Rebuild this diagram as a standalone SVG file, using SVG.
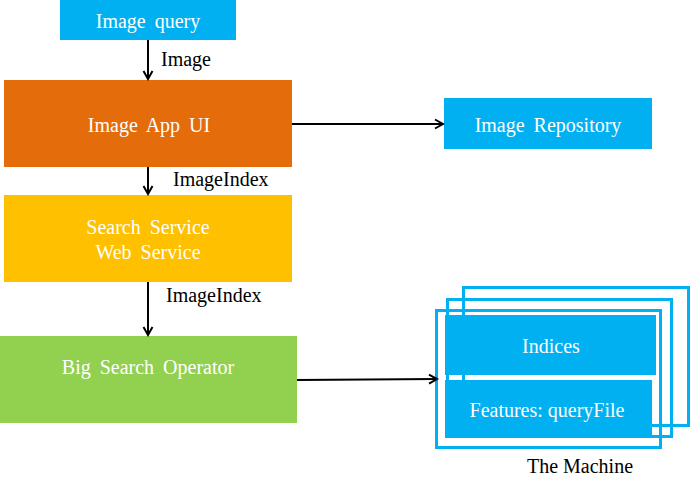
<svg xmlns="http://www.w3.org/2000/svg" width="700" height="492" viewBox="0 0 700 492">
<defs>
<style>
.box{stroke:none}
.bt{font-family:'Liberation Serif','DejaVu Serif',serif;font-size:20px;fill:#fff;text-anchor:middle;word-spacing:4px}
.lb{font-family:'Liberation Serif','DejaVu Serif',serif;font-size:20px;fill:#000}
.edge{stroke:#000;stroke-width:2;fill:none;marker-end:url(#arr)}
.frame{fill:none;stroke:#00B0F0;stroke-width:3}
</style>
<marker id="arr" markerUnits="userSpaceOnUse" markerWidth="12" markerHeight="12" viewBox="0 0 12 12" refX="10" refY="6" orient="auto">
<path d="M2,1.5 L10,6 L2,10.5" fill="none" stroke="#000" stroke-width="2"/>
</marker>
</defs>
<rect width="700" height="492" fill="#fff"/>
<g id="image-query">
<rect class="box" x="60" y="0" width="176" height="40" fill="#00B0F0"/>
<text class="bt" x="148" y="28">Image query</text>
</g>
<g id="image-app-ui">
<rect class="box" x="4" y="80" width="288" height="87" fill="#E46C0A"/>
<text class="bt" x="149" y="132">Image App UI</text>
</g>
<g id="search-service">
<rect class="box" x="4" y="195" width="288" height="87" fill="#FFC000"/>
<text class="bt" x="148" y="234">Search Service</text>
<text class="bt" x="148" y="259">Web Service</text>
</g>
<g id="big-search-operator">
<rect class="box" x="0" y="336" width="297" height="87" fill="#92D050"/>
<text class="bt" x="148" y="374">Big Search Operator</text>
</g>
<g id="image-repository">
<rect class="box" x="444" y="98" width="208" height="51" fill="#00B0F0"/>
<text class="bt" x="548" y="132">Image Repository</text>
</g>
<g id="the-machine">
<rect class="frame" x="463.5" y="287.5" width="225" height="138"/>
<rect class="frame" x="447.5" y="299.5" width="224" height="137"/>
<rect class="frame" x="436.5" y="310.5" width="224" height="137"/>
<rect class="box" x="445" y="315" width="211" height="60" fill="#00B0F0"/>
<rect class="box" x="445" y="380" width="207" height="58" fill="#00B0F0"/>
<text class="bt" x="551" y="353">Indices</text>
<text class="bt" x="547" y="417" style="word-spacing:0">Features: queryFile</text>
<text class="lb" x="580" y="473" text-anchor="middle">The Machine</text>
</g>
<g id="connectors">
<line class="edge" x1="148" y1="40" x2="148" y2="79"/>
<line class="edge" x1="148" y1="167" x2="148" y2="194"/>
<line class="edge" x1="148" y1="282" x2="148" y2="335"/>
<line class="edge" x1="292" y1="124" x2="443" y2="124"/>
<line class="edge" x1="297" y1="380" x2="437" y2="379"/>
<text class="lb" x="161" y="66">Image</text>
<text class="lb" x="173" y="186">ImageIndex</text>
<text class="lb" x="166" y="302">ImageIndex</text>
</g>
</svg>
